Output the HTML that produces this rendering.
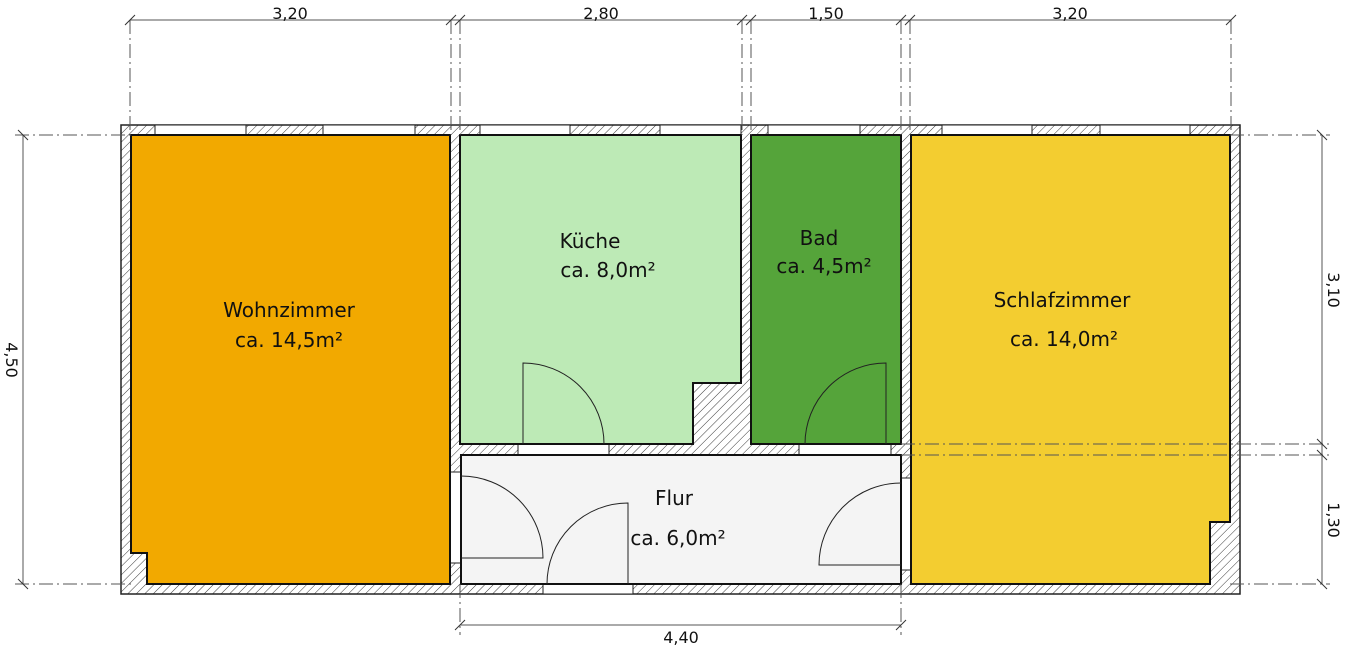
<!DOCTYPE html>
<html><head><meta charset="utf-8"><style>html,body{margin:0;padding:0;background:#fff}svg{display:block}text{font-family:"DejaVu Sans","Liberation Sans",sans-serif;fill:#111}</style></head><body>
<svg width="1346" height="649" viewBox="0 0 1346 649" xmlns="http://www.w3.org/2000/svg">
<defs><pattern id="h" width="6" height="6" patternUnits="userSpaceOnUse" patternTransform="rotate(45)"><rect width="6" height="6" fill="#fff"/><line x1="0" y1="0" x2="0" y2="6" stroke="#222" stroke-width="0.9"/></pattern></defs>
<rect x="121" y="125" width="1119" height="469" fill="url(#h)" stroke="#222" stroke-width="1.5"/>
<g fill="#fff" stroke="#222" stroke-width="1">
<rect x="155" y="125" width="91" height="10"/><rect x="323" y="125" width="92" height="10"/>
<rect x="480" y="125" width="90" height="10"/><rect x="660" y="125" width="81" height="10"/>
<rect x="768" y="125" width="92" height="10"/><rect x="942" y="125" width="90" height="10"/>
<rect x="1100" y="125" width="90" height="10"/>
<rect x="543" y="584" width="90" height="10"/>
<rect x="518" y="444" width="91" height="11"/><rect x="799" y="444" width="92" height="11"/>
<rect x="450" y="472" width="11" height="91"/><rect x="901" y="478" width="10" height="92"/>
</g>
<g stroke="#111" stroke-width="2">
<polygon points="131,135 450,135 450,584 147,584 147,553 131,553" fill="#f2a900"/>
<polygon points="460,135 741,135 741,383 693,383 693,444 460,444" fill="#bdeab6"/>
<polygon points="751,135 901,135 901,444 751,444" fill="#55a43a"/>
<polygon points="911,135 1230,135 1230,522 1210,522 1210,584 911,584" fill="#f3cd30"/>
<rect x="461" y="455" width="440" height="129" fill="#f4f4f4"/>
</g>
<g fill="none" stroke="#222" stroke-width="1">
<path d="M523,444 V363 A81,81 0 0 1 604,444"/>
<path d="M886,444 V363 A81,81 0 0 0 805,444"/>
<path d="M461,476 A82,82 0 0 1 543,558 H461"/>
<path d="M628,584 V503 A81,81 0 0 0 547,584"/>
<path d="M901,483 A82,82 0 0 0 819,565 H901"/>
</g>
<g stroke="#555" stroke-width="1" fill="none">
<line x1="130" y1="20" x2="1231" y2="20"/>
<g stroke-dasharray="14,4,2,4">
<line x1="130" y1="20" x2="130" y2="135"/><line x1="451" y1="20" x2="451" y2="135"/>
<line x1="460" y1="20" x2="460" y2="135"/><line x1="742" y1="20" x2="742" y2="135"/>
<line x1="751" y1="20" x2="751" y2="135"/><line x1="901" y1="20" x2="901" y2="135"/>
<line x1="910" y1="20" x2="910" y2="135"/><line x1="1231" y1="20" x2="1231" y2="135"/>
<line x1="15" y1="135" x2="131" y2="135"/><line x1="15" y1="584" x2="131" y2="584"/>
<line x1="1230" y1="135" x2="1330" y2="135"/><line x1="1230" y1="584" x2="1330" y2="584"/>
<line x1="901" y1="444" x2="1330" y2="444"/><line x1="901" y1="455" x2="1330" y2="455"/>
<line x1="460" y1="584" x2="460" y2="635"/><line x1="901" y1="584" x2="901" y2="635"/>
</g>
<line x1="23" y1="135" x2="23" y2="584"/>
<line x1="1322" y1="135" x2="1322" y2="584"/>
<line x1="460" y1="625" x2="901" y2="625"/>
<g stroke="#333">
<line x1="125" y1="25" x2="135" y2="15"/><line x1="446" y1="25" x2="456" y2="15"/><line x1="455" y1="25" x2="465" y2="15"/><line x1="737" y1="25" x2="747" y2="15"/><line x1="746" y1="25" x2="756" y2="15"/><line x1="896" y1="25" x2="906" y2="15"/><line x1="905" y1="25" x2="915" y2="15"/><line x1="1226" y1="25" x2="1236" y2="15"/>
<line x1="18" y1="130" x2="28" y2="140"/><line x1="18" y1="579" x2="28" y2="589"/>
<line x1="1317" y1="130" x2="1327" y2="140"/><line x1="1317" y1="439" x2="1327" y2="449"/><line x1="1317" y1="450" x2="1327" y2="460"/><line x1="1317" y1="579" x2="1327" y2="589"/>
<line x1="455" y1="630" x2="465" y2="620"/><line x1="896" y1="630" x2="906" y2="620"/>
</g>
</g>
<g font-size="16" text-anchor="middle">
<text x="290" y="19">3,20</text><text x="601" y="19">2,80</text><text x="826" y="19">1,50</text><text x="1070" y="19">3,20</text>
<text x="681" y="643">4,40</text>
<text transform="translate(6,360) rotate(90)">4,50</text>
<text transform="translate(1328,290) rotate(90)">3,10</text>
<text transform="translate(1328,520) rotate(90)">1,30</text>
</g>
<g font-size="20" text-anchor="middle">
<text x="289" y="317">Wohnzimmer</text><text x="289" y="347">ca. 14,5m²</text>
<text x="590" y="248">Küche</text><text x="608" y="277">ca. 8,0m²</text>
<text x="819" y="245">Bad</text><text x="824" y="273">ca. 4,5m²</text>
<text x="1062" y="307">Schlafzimmer</text><text x="1064" y="346">ca. 14,0m²</text>
<text x="674" y="505">Flur</text><text x="678" y="545">ca. 6,0m²</text>
</g>
</svg>
</body></html>
